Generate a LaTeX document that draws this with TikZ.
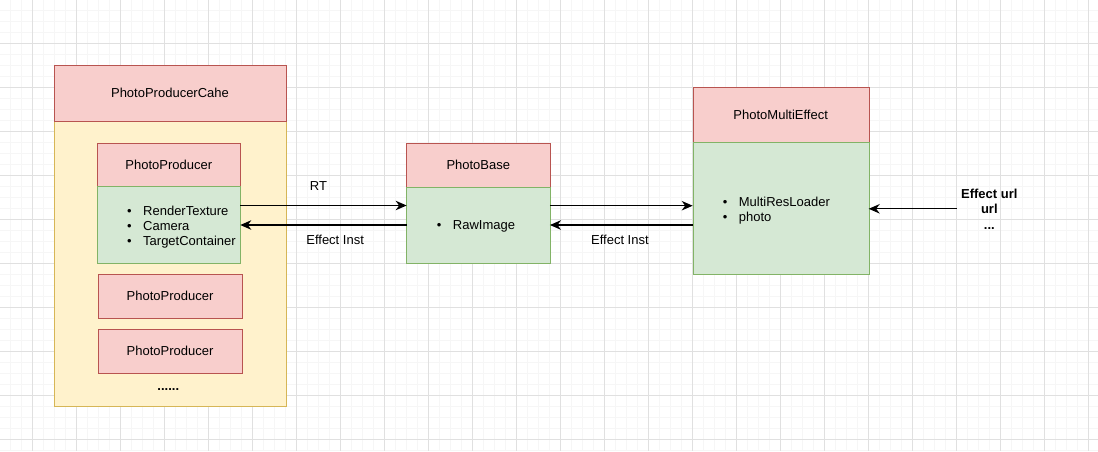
\documentclass[tikz,border=0pt]{standalone}
\usepackage{fontspec}
\setmainfont{Liberation Sans}
\usetikzlibrary{positioning,arrows.meta}
\definecolor{redFill}{HTML}{F8CECC}
\definecolor{redLine}{HTML}{B85450}
\definecolor{greenFill}{HTML}{D5E8D4}
\definecolor{greenLine}{HTML}{82B366}
\definecolor{yellowFill}{HTML}{FFF2CC}
\definecolor{yellowLine}{HTML}{D6B656}
\definecolor{gridMinor}{HTML}{F6F6F6}
\definecolor{gridMajor}{HTML}{E0E0E0}
\newcommand{\itm}[1]{\makebox[16pt][l]{\textbullet}#1}
\tikzset{
  box/.style={rectangle, draw, inner sep=0pt, outer sep=0pt},
  head/.style={box, fill=redFill, draw=redLine},
  body/.style={box, fill=greenFill, draw=greenLine},
  link/.style={-{Stealth[length=11pt,width=9.5pt,inset=3.5pt]}, line width=1.2pt},
}
\begin{document}
\begin{tikzpicture}[x=1pt,y=-1pt,font=\fontsize{13}{15}\selectfont]
   \useasboundingbox (0,0) rectangle (1098,451);
   % grid
   \foreach \gx in {10.3,21.3,...,1098} \draw[gridMinor,line width=0.8pt] (\gx,0) -- (\gx,451);
   \foreach \gy in {10.3,21.3,...,451} \draw[gridMinor,line width=0.8pt] (0,\gy) -- (1098,\gy);
   \foreach \gx in {32.3,76.3,...,1098} \draw[gridMajor,line width=0.8pt] (\gx,0) -- (\gx,451);
   \foreach \gy in {43.3,87.3,...,451} \draw[gridMajor,line width=0.8pt] (0,\gy) -- (1098,\gy);
   %
   \node[box, fill=yellowFill, draw=yellowLine, minimum width=231.4pt, minimum height=340.7pt] (cache) at (170,235.7) {};
   \node[head, minimum width=231.4pt, minimum height=55.4pt] (cacheHead) at (170,93) {PhotoProducerCahe};
   %
   \node[head, minimum width=143pt, minimum height=43.6pt] (prodHead) at (168.8,164.5) {PhotoProducer};
   \node[body, minimum width=143pt, minimum height=77pt, below=0pt of prodHead] (prodBody) {};
   \node[anchor=west, align=left, inner sep=0pt] (prodList) at (127,227.2) {\itm{RenderTexture}\\\itm{Camera}\\\itm{TargetContainer}};
   \node[head, minimum width=143.4pt, minimum height=44pt] (prodTwo) at (170,296.3) {PhotoProducer};
   \node[head, minimum width=143.4pt, minimum height=44pt] (prodThree) at (170,351.3) {PhotoProducer};
   \node[anchor=base, inner sep=0pt, font=\fontsize{13}{15}\selectfont\bfseries] (more) at (168.3,390) {......};
   %
   \node[head, minimum width=143.3pt, minimum height=44pt] (baseHead) at (478.3,164.7) {PhotoBase};
   \node[body, minimum width=143.3pt, minimum height=76.6pt, below=0pt of baseHead] (baseBody) {};
   \node[anchor=west, align=left, inner sep=0pt] (baseList) at (436.7,226.5) {\itm{RawImage}};
   %
   \node[head, minimum width=176pt, minimum height=55pt] (multiHead) at (780.7,114.8) {PhotoMultiEffect};
   \node[body, minimum width=176pt, minimum height=132pt, below=0pt of multiHead] (multiBody) {};
   \node[anchor=west, align=left, inner sep=0pt] (multiList) at (722.7,210.7) {\itm{MultiResLoader}\\\itm{photo}};
   %
   \node[align=center, inner xsep=4.3pt, inner ysep=0pt, font=\fontsize{13}{15.5}\selectfont\bfseries] (urlText) at (989.3,208.8) {Effect url\\url\\...};
   %
   \draw[link] ([yshift=19.3pt]prodBody.east) -- node[pos=0.47, yshift=19pt] (rtLabel) {RT} ([yshift=19.3pt]prodBody.east -| baseBody.west);
   \draw[link] (baseBody.west) -- node[pos=0.43, yshift=-15.3pt] (instLeft) {Effect Inst} (baseBody.west -| prodBody.east);
   \draw[link] ([yshift=19.3pt]baseBody.east) -- ([yshift=19.3pt]baseBody.east -| multiBody.west);
   \draw[link] (baseBody.east -| multiBody.west) -- node[pos=0.51, yshift=-15.3pt] (instRight) {Effect Inst} (baseBody.east);
   \draw[link] (urlText.west) -- (urlText.west -| multiBody.east);
\end{tikzpicture}
\end{document}
